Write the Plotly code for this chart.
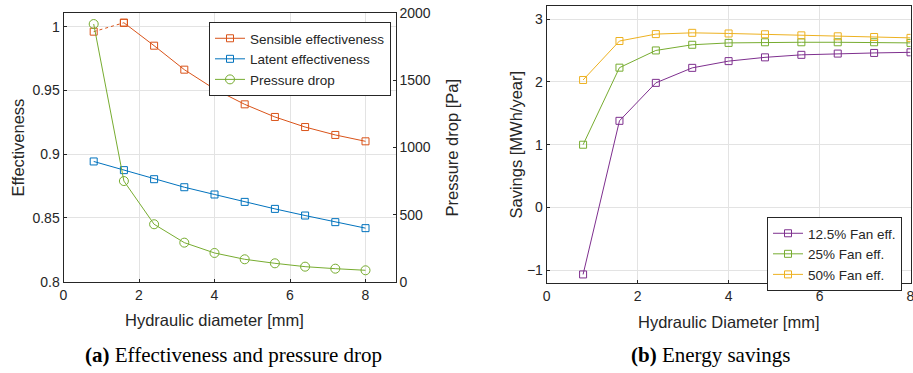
import plotly.graph_objects as go

# ---- data ----
hyd_diam = [0.8, 1.6, 2.4, 3.2, 4.0, 4.8, 5.6, 6.4, 7.2, 8.0]
sensible_eff = [0.9961, 1.0031, 0.9851, 0.9663, 0.9511, 0.9391, 0.9292, 0.9213, 0.9151, 0.9101]
latent_eff = [0.8943, 0.8875, 0.8804, 0.8741, 0.8684, 0.8626, 0.8571, 0.8519, 0.8467, 0.8420]
pressure_drop = [1920, 750, 428, 291, 214, 167, 137, 112, 97, 85]

savings_125 = [-1.064, 1.38, 1.984, 2.223, 2.33, 2.39, 2.43, 2.45, 2.46, 2.47]
savings_25 = [1.0, 2.226, 2.50, 2.59, 2.62, 2.63, 2.63, 2.63, 2.63, 2.62]
savings_50 = [2.03, 2.65, 2.76, 2.78, 2.77, 2.757, 2.74, 2.725, 2.714, 2.70]

W, H = 913, 373
C_ORANGE = "#D95319"
C_BLUE = "#0072BD"
C_GREEN = "#77AC30"
C_PURPLE = "#7E2F8E"
C_YELLOW = "#EDB120"
AX = "#262626"
GRID = "#e3e3e3"
FONT = "Liberation Sans"

def px_dom_x(a, b):
    return [a / W, b / W]

def px_dom_y(top, bottom):
    return [(H - bottom) / H, (H - top) / H]

fig = go.Figure()
sq = dict(symbol="square-open", size=7)

# left panel
fig.add_trace(go.Scatter(x=hyd_diam[:2], y=sensible_eff[:2], mode="lines+markers",
                         line=dict(color=C_ORANGE, width=1, dash="dot"),
                         marker=dict(color=C_ORANGE, **sq), showlegend=False,
                         xaxis="x", yaxis="y"))
fig.add_trace(go.Scatter(x=hyd_diam[1:], y=sensible_eff[1:], mode="lines+markers",
                         name="Sensible effectiveness",
                         line=dict(color=C_ORANGE, width=1),
                         marker=dict(color=C_ORANGE, **sq), legend="legend",
                         xaxis="x", yaxis="y"))
fig.add_trace(go.Scatter(x=hyd_diam, y=latent_eff, mode="lines+markers",
                         name="Latent effectiveness",
                         line=dict(color=C_BLUE, width=1),
                         marker=dict(color=C_BLUE, **sq), legend="legend",
                         xaxis="x", yaxis="y"))
fig.add_trace(go.Scatter(x=hyd_diam, y=pressure_drop, mode="lines+markers",
                         name="Pressure drop",
                         line=dict(color=C_GREEN, width=1),
                         marker=dict(color=C_GREEN, symbol="circle-open", size=9),
                         legend="legend",
                         xaxis="x", yaxis="y2"))

# right panel
for vals, nm, col in [(savings_125, "12.5% Fan eff.", C_PURPLE),
                      (savings_25, "25% Fan eff.", C_GREEN),
                      (savings_50, "50% Fan eff.", C_YELLOW)]:
    fig.add_trace(go.Scatter(x=hyd_diam, y=vals, mode="lines+markers", name=nm,
                             line=dict(color=col, width=1),
                             marker=dict(color=col, **sq), legend="legend2",
                             xaxis="x3", yaxis="y3"))

axcommon = dict(showline=True, linecolor=AX, linewidth=1, gridcolor=GRID,
                ticks="inside", ticklen=3, tickcolor=AX, zeroline=False,
                automargin=False, ticklabeloverflow="allow",
                tickfont=dict(family=FONT, size=14, color=AX))

LX = (63.5, 395.7)
LY = (13.3, 281.7)
RX = (546.7, 910.5)
RY = (6, 283)

fig.update_layout(
    template="none",
    width=W, height=H, margin=dict(l=0, r=0, t=0, b=0, pad=0),
    paper_bgcolor="white", plot_bgcolor="white",
    font=dict(family=FONT, size=14, color=AX),
    xaxis=dict(domain=px_dom_x(*LX), range=[0, 8.8], dtick=2, mirror=True,
               anchor="y", **axcommon),
    yaxis=dict(domain=px_dom_y(*LY), range=[0.8, 1.0105],
               tickvals=[0.8, 0.85, 0.9, 0.95, 1.0], ticktext=["0.8", "0.85", "0.9", "0.95", "1"],
               anchor="x", **axcommon),
    yaxis2=dict(range=[0, 2000], dtick=500, overlaying="y", side="right", anchor="x",
                showgrid=False,
                **{k: v for k, v in axcommon.items() if k != "gridcolor"}),
    xaxis3=dict(domain=px_dom_x(*RX), range=[0, 8], dtick=2, mirror=True,
                anchor="y3", **axcommon),
    yaxis3=dict(domain=px_dom_y(*RY), range=[-1.2, 3.207], dtick=1, mirror=True,
                anchor="x3", **axcommon),
    legend=dict(x=209 / W, y=(H - 22) / H, xanchor="left", yanchor="top",
                bgcolor="white", bordercolor=AX, borderwidth=1,
                font=dict(family=FONT, size=13.5, color=AX), tracegroupgap=0,
                itemwidth=30),
    legend2=dict(x=767 / W, y=(H - 217) / H, xanchor="left", yanchor="top",
                 bgcolor="white", bordercolor=AX, borderwidth=1,
                 font=dict(family=FONT, size=13.5, color=AX), tracegroupgap=0,
                 itemwidth=30),
)

def ann(text, xpx, ypx, size, family=FONT, angle=0, color=AX):
    fig.add_annotation(text=text, x=xpx / W, y=(H - ypx) / H, xref="paper", yref="paper",
                       showarrow=False, xanchor="center", yanchor="middle",
                       textangle=angle, font=dict(family=family, size=size, color=color))

# axis titles
ann("Hydraulic diameter [mm]", (LX[0] + 365.3) / 2, 320, 16.5)
ann("Effectiveness", 17, (LY[0] + LY[1]) / 2, 16.5, angle=-90)
ann("Pressure drop [Pa]", 451, (LY[0] + LY[1]) / 2, 16.5, angle=-90)
ann("Hydraulic Diameter [mm]", 728.5, 321.5, 16.5)
ann("Savings [MWh/year]", 515, (RY[0] + RY[1]) / 2, 16.5, angle=-90)

# captions
ann("<b>(a)</b> Effectiveness and pressure drop", 234, 355, 21, family="Liberation Serif", color="black")
ann("<b>(b)</b> Energy savings", 710, 355, 21, family="Liberation Serif", color="black")

fig.write_html("out.html")
